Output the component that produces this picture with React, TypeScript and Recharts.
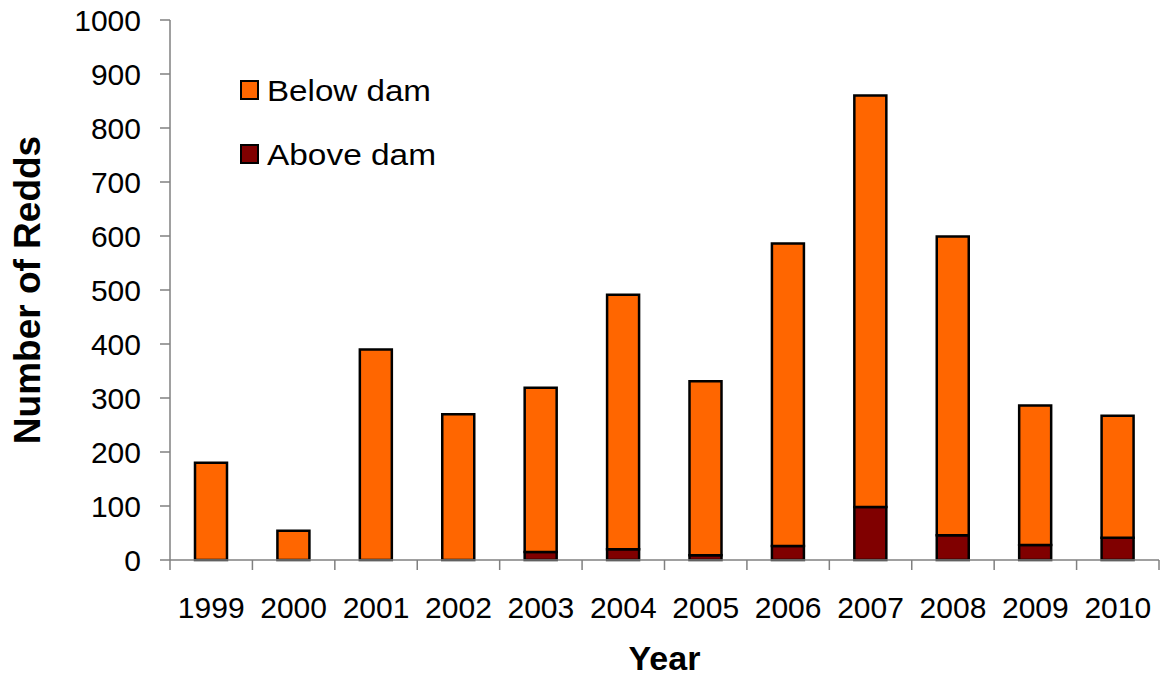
import React from "react";
import { BarChart, Bar, XAxis, YAxis } from "recharts";

const years = ["1999", "2000", "2001", "2002", "2003", "2004", "2005", "2006", "2007", "2008", "2009", "2010"];
const aboveDam = [0, 0, 0, 0, 15, 20, 9, 26, 98, 46, 28, 41];
const belowDam = [180, 54, 390, 270, 304, 471, 322, 560, 762, 553, 258, 226];
const yTicks = [0, 100, 200, 300, 400, 500, 600, 700, 800, 900, 1000];
const seriesNames = ["Below dam", "Above dam"];
const seriesColors = ["#FF6600", "#800000"];

const data = years.map((year, i) => ({ year, above: aboveDam[i], below: belowDam[i] }));

const W = 1160;
const H = 679;
const M_TOP = 20;
const M_RIGHT = 1;
const Y_AXIS_W = 170;
const X_AXIS_H = 119;
const PLOT_W = W - Y_AXIS_W - M_RIGHT;
const BAND = PLOT_W / years.length;
const FONT = "'Liberation Sans', Arial, Helvetica, sans-serif";
const AXIS_COLOR = "#808080";

const XTick = (props: any) => {
  const { x, y, payload, index } = props;
  return (
    <g>
      <line x1={x - BAND / 2} y1={y} x2={x - BAND / 2} y2={y + 10} stroke={AXIS_COLOR} strokeWidth={1.5} />
      {index === years.length - 1 && (
        <line x1={x + BAND / 2} y1={y} x2={x + BAND / 2} y2={y + 10} stroke={AXIS_COLOR} strokeWidth={1.5} />
      )}
      <text x={x} y={y + 58} textAnchor="middle" fontSize={30} fill="#000" fontFamily={FONT}>
        {payload.value}
      </text>
    </g>
  );
};

const YLabel = (props: any) => {
  const vb = props.viewBox;
  const cx = vb.x + 27;
  const cy = vb.y + vb.height / 2;
  return (
    <text
      x={cx}
      y={cy}
      transform={`rotate(-90 ${cx} ${cy})`}
      textAnchor="middle"
      dominantBaseline="central"
      fontSize={37}
      fontWeight="bold"
      fontFamily={FONT}
      fill="#000"
    >
      Number of Redds
    </text>
  );
};

const XLabel = (props: any) => {
  const vb = props.viewBox;
  return (
    <text
      x={vb.x + vb.width / 2}
      y={vb.y + 110}
      textAnchor="middle"
      fontSize={34}
      fontWeight="bold"
      fontFamily={FONT}
      fill="#000"
    >
      Year
    </text>
  );
};

const legendRows = [
  { name: seriesNames[0], color: seriesColors[0], top: 81, len: 164 },
  { name: seriesNames[1], color: seriesColors[1], top: 145, len: 169 },
];

export default function App() {
  return (
    <div style={{ position: "absolute", left: 0, top: 0, width: W, height: H, background: "#fff" }}>
      <BarChart
        width={W}
        height={H}
        data={data}
        margin={{ top: M_TOP, right: M_RIGHT, bottom: 0, left: 0 }}
        barCategoryGap={0}
      >
        <XAxis
          dataKey="year"
          height={X_AXIS_H}
          interval={0}
          tickLine={false}
          tickSize={0}
          tickMargin={0}
          tick={<XTick />}
          axisLine={{ stroke: AXIS_COLOR, strokeWidth: 1.5 }}
          label={<XLabel />}
        />
        <YAxis
          width={Y_AXIS_W}
          domain={[0, 1000]}
          ticks={yTicks}
          interval={0}
          tickSize={10}
          tickMargin={19}
          tickLine={{ stroke: AXIS_COLOR, strokeWidth: 1.5 }}
          axisLine={{ stroke: AXIS_COLOR, strokeWidth: 1.5 }}
          tick={{ fontSize: 30, fill: "#000", fontFamily: FONT }}
          label={<YLabel />}
        />
        <Bar
          dataKey="above"
          name={seriesNames[1]}
          stackId="a"
          fill={seriesColors[1]}
          stroke="#000"
          strokeWidth={2.5}
          barSize={32}
          isAnimationActive={false}
        />
        <Bar
          dataKey="below"
          name={seriesNames[0]}
          stackId="a"
          fill={seriesColors[0]}
          stroke="#000"
          strokeWidth={2.5}
          barSize={32}
          isAnimationActive={false}
        />
        <g>
          {legendRows.map((r) => (
            <g key={r.name}>
              <rect x={241} y={r.top} width={17} height={18} fill={r.color} stroke="#000" strokeWidth={2} />
              <text
                x={267}
                y={r.top + 20}
                fontSize={29}
                fontFamily={FONT}
                fill="#000"
                textLength={r.len}
                lengthAdjust="spacingAndGlyphs"
              >
                {r.name}
              </text>
            </g>
          ))}
        </g>
      </BarChart>
    </div>
  );
}
